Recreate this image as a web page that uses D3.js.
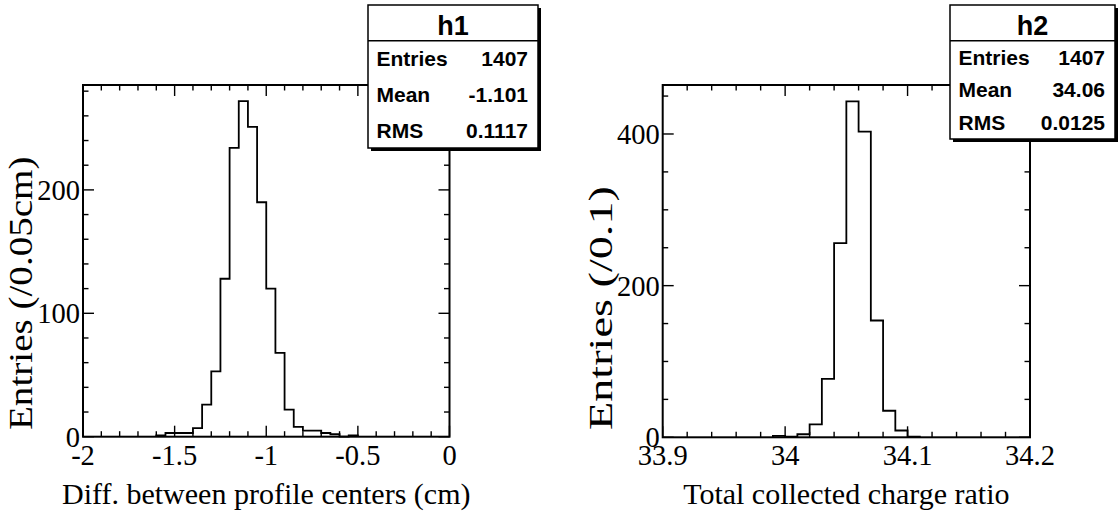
<!DOCTYPE html>
<html>
<head>
<meta charset="utf-8">
<script src="https://cdn.jsdelivr.net/npm/d3@7"></script>
<style>
  html, body { margin: 0; padding: 0; background: #fff; }
  svg { display: block; }
</style>
</head>
<body>
<svg id="chart" width="1120" height="513"></svg>
<script>
// ---------- data ----------
const h1Edges = [-2, 0];          // histogram range
const h1BinWidth = 0.05;
const h1Values = [0,0,0,0,0,0,0,0,1,3,3,3,7,26,53,128,234,272,251,190,120,68,22,8,5,5,3,2,0,1,0,0,0,0,0,0,0,0,0,0];
const h1XTicks = [-2, -1.5, -1, -0.5, 0];
const h1YTicks = [0, 100, 200];
const h1Stats = [["Entries", "1407"], ["Mean", "-1.101"], ["RMS", "0.1117"]];

const h2Edges = [33.9, 34.2];
const h2BinWidth = 0.01;
const h2Values = [0,0,0,0,0,0,0,0,0,2,1,4,17,77,256,443,403,154,35,9,1,0,0,0,0,0,0,0,0,0];
const h2XTicks = [33.9, 34, 34.1, 34.2];
const h2YTicks = [0, 200, 400];
const h2Stats = [["Entries", "1407"], ["Mean", "34.06"], ["RMS", "0.0125"]];

// ---------- drawing ----------
const svg = d3.select("#chart");
const serif = "'Liberation Serif', 'Times New Roman', serif";
const sans = "'Liberation Sans', Arial, Helvetica, sans-serif";

function drawPanel(o) {
  const g = svg.append("g");
  const x = d3.scaleLinear().domain(o.xDomain).range([o.left, o.right]);
  const y = d3.scaleLinear().domain(o.yDomain).range([o.bottom, o.top]);

  // ticks
  const tg = g.append("g").attr("stroke", "#000").attr("stroke-width", 1.4);
  const xMinor = d3.range(o.xDomain[0], o.xDomain[1] + o.xMinorStep / 2, o.xMinorStep);
  xMinor.forEach(v => {
    const isMajor = o.xTicks.some(t => Math.abs(t - v) < o.xMinorStep / 10);
    const len = isMajor ? 11 : 5.5;
    const px = x(v);
    tg.append("line").attr("x1", px).attr("x2", px).attr("y1", o.bottom).attr("y2", o.bottom - len);
    tg.append("line").attr("x1", px).attr("x2", px).attr("y1", o.top).attr("y2", o.top + len);
  });
  const yMinor = d3.range(0, o.yDomain[1], o.yMinorStep);
  yMinor.forEach(v => {
    const isMajor = o.yTicks.some(t => Math.abs(t - v) < o.yMinorStep / 10);
    const len = isMajor ? 11 : 5.5;
    const py = y(v);
    tg.append("line").attr("y1", py).attr("y2", py).attr("x1", o.left).attr("x2", o.left + len);
    tg.append("line").attr("y1", py).attr("y2", py).attr("x1", o.right).attr("x2", o.right - len);
  });

  // histogram outline
  const vals = o.values;
  const first = vals.findIndex(v => v > 0);
  let last = vals.length - 1;
  while (last > 0 && vals[last] === 0) last--;
  const pts = [];
  pts.push([x(o.xDomain[0] + first * o.binWidth), y(0)]);
  for (let i = first; i <= last; i++) {
    const lo = o.xDomain[0] + i * o.binWidth, hi = lo + o.binWidth;
    pts.push([x(lo), y(vals[i])]);
    pts.push([x(hi), y(vals[i])]);
  }
  pts.push([x(o.xDomain[0] + (last + 1) * o.binWidth), y(0)]);
  g.append("path").attr("d", d3.line()(pts))
    .attr("fill", "none").attr("stroke", "#000").attr("stroke-width", 1.8);

  // frame
  g.append("rect").attr("x", o.left).attr("y", o.top)
    .attr("width", o.right - o.left).attr("height", o.bottom - o.top)
    .attr("fill", "none").attr("stroke", "#000").attr("stroke-width", 2);

  // tick labels
  o.xTicks.forEach(t => {
    g.append("text").attr("x", x(t)).attr("y", o.bottom + 28)
      .attr("text-anchor", "middle").attr("font-family", serif).attr("font-size", 28.5)
      .text(String(t));
  });
  o.yTicks.forEach(t => {
    g.append("text").attr("x", o.left - 3).attr("y", y(t)).attr("dy", "0.35em")
      .attr("text-anchor", "end").attr("font-family", serif).attr("font-size", 28.5)
      .text(String(t));
  });

  // axis titles
  g.append("text").attr("x", (o.left + o.right) / 2).attr("y", 504)
    .attr("text-anchor", "middle").attr("font-family", serif).attr("font-size", 30)
    .text(o.xTitle);
  g.append("text").attr("transform", `translate(${o.yTitleX},430) rotate(-90) scale(${o.yTitleStretch},1)`)
    .attr("text-anchor", "start").attr("font-family", serif).attr("font-size", 34)
    .text(o.yTitle);

  // stat box
  const b = o.box;
  const sb = svg.append("g");
  sb.append("rect").attr("x", b.x + 3).attr("y", b.y + 3).attr("width", b.w).attr("height", b.h).attr("fill", "#000");
  sb.append("rect").attr("x", b.x).attr("y", b.y).attr("width", b.w).attr("height", b.h)
    .attr("fill", "#fff").attr("stroke", "#000").attr("stroke-width", 1.5);
  const titleH = 35.7;
  sb.append("line").attr("x1", b.x).attr("x2", b.x + b.w).attr("y1", b.y + titleH).attr("y2", b.y + titleH)
    .attr("stroke", "#000").attr("stroke-width", 1.5);
  sb.append("text").attr("x", b.x + b.w / 2).attr("y", b.y + 29.5)
    .attr("text-anchor", "middle").attr("font-family", sans).attr("font-weight", "bold").attr("font-size", 27)
    .text(o.name);
  const rowH = (b.h - titleH) / o.stats.length;
  o.stats.forEach((s, i) => {
    const base = b.y + titleH + rowH * i + rowH / 2 + b.fs * 0.36;
    sb.append("text").attr("x", b.x + 8.5).attr("y", base)
      .attr("font-family", sans).attr("font-weight", "bold").attr("font-size", b.fs).text(s[0]);
    sb.append("text").attr("x", b.x + b.w - 10).attr("y", base).attr("text-anchor", "end")
      .attr("font-family", sans).attr("font-weight", "bold").attr("font-size", b.fs).text(s[1]);
  });
}

drawPanel({
  name: "h1", values: h1Values, binWidth: h1BinWidth,
  xDomain: h1Edges, yDomain: [0, 285],
  left: 83, right: 449.5, top: 85, bottom: 436.7,
  xTicks: h1XTicks, yTicks: h1YTicks, xMinorStep: 0.1, yMinorStep: 20,
  xTitle: "Diff. between profile centers (cm)", yTitle: "Entries (/0.05cm)", yTitleX: 32, yTitleStretch: 1.15,
  stats: h1Stats, box: { x: 368, y: 5, w: 170, h: 143, fs: 21 }
});
drawPanel({
  name: "h2", values: h2Values, binWidth: h2BinWidth,
  xDomain: h2Edges, yDomain: [0, 464.6],
  left: 662.7, right: 1030, top: 85, bottom: 437.3,
  xTicks: h2XTicks, yTicks: h2YTicks, xMinorStep: 0.02, yMinorStep: 50,
  xTitle: "Total collected charge ratio", yTitle: "Entries (/0.1)", yTitleX: 612, yTitleStretch: 1.36,
  stats: h2Stats, box: { x: 950, y: 5, w: 165, h: 134, fs: 21 }
});
</script>
</body>
</html>
